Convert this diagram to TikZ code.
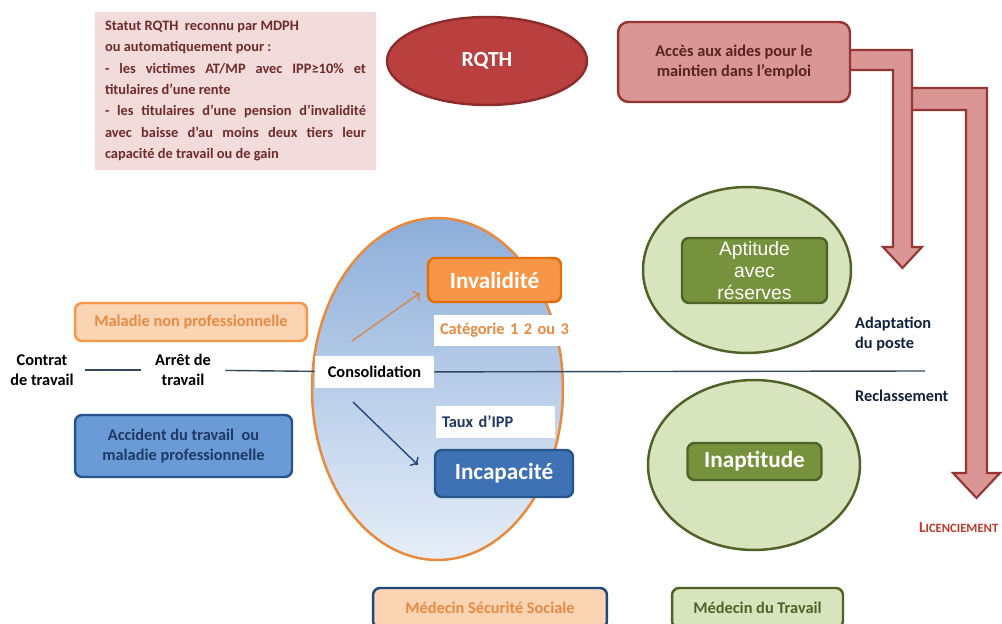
\documentclass[tikz,border=0pt]{standalone}
\usepackage{fontspec}
\setmainfont{Carlito}
\newfontfamily\arialfont{Liberation Sans}
\usepackage{tikz}
\usetikzlibrary{positioning, shapes.geometric, arrows.meta}
\usepackage{xcolor}

\definecolor{pinkbg}{HTML}{F2DCDB}
\definecolor{pinktxt}{HTML}{6E2B29}
\definecolor{redfill}{HTML}{B9403E}
\definecolor{reddraw}{HTML}{8C2D2B}
\definecolor{rosefill}{HTML}{D99694}
\definecolor{rosedraw}{HTML}{963634}
\definecolor{orfill}{HTML}{F79646}
\definecolor{ordraw}{HTML}{E46C0A}
\definecolor{orlight}{HTML}{FBD4B4}
\definecolor{ortxt}{HTML}{E58B42}
\definecolor{bluefill}{HTML}{3E72B5}
\definecolor{bluedraw}{HTML}{25558A}
\definecolor{bluemid}{HTML}{6A9BD6}
\definecolor{bluetop}{HTML}{8DAEDA}
\definecolor{bluebot}{HTML}{E6EEF8}
\definecolor{bluetxt}{HTML}{1F3864}
\definecolor{navy}{HTML}{1F497D}
\definecolor{greenlight}{HTML}{D7E4BD}
\definecolor{greenfill}{HTML}{76923C}
\definecolor{greendraw}{HTML}{4F6228}
\definecolor{linecol}{HTML}{34495E}
\definecolor{licred}{HTML}{C0392B}

\begin{document}
\begin{tikzpicture}[x=0.02cm, y=-0.02cm,
    txt/.style={font=\fontsize{9.3}{11.5}\selectfont\bfseries, align=center},
    bigtxt/.style={font=\fontsize{13.2}{15}\selectfont\bfseries},
    rbox/.style={txt, rounded corners=4pt, line width=1.4pt, inner sep=0pt},
    wbox/.style={txt, fill=white, inner sep=0pt, minimum height=0.64cm},
    oval/.style={ellipse, line width=1.4pt, inner sep=0pt}]

    % Bounding box
    \useasboundingbox[fill=white] (0,0) rectangle (1002,624);

    % Top row: statut, RQTH, aides
    \node[fill=pinkbg, minimum width=5.62cm, minimum height=3.16cm, text width=5.22cm,
          align=justify, text=pinktxt, font=\fontsize{8.2}{12.2}\selectfont\bfseries] (statut) at (235.5,91)
        {Statut RQTH \ reconnu par MDPH\\
         ou automatiquement pour :\\
         - les victimes AT/MP avec IPP≥10\% et\linebreak titulaires d'une rente\\
         - les titulaires d'une pension d'invalidité\linebreak avec baisse d'au moins deux tiers leur\linebreak capacité de travail ou de gain};
    \node[oval, fill=redfill, draw=reddraw, minimum width=4cm, minimum height=1.76cm,
          text=white, font=\fontsize{12.3}{14}\selectfont\bfseries] (rqth) at (487,61) {RQTH};

    % Bent arrows (drawn before the box)
    \filldraw[fill=rosefill, draw=rosedraw, line width=1.2pt]
        (905,88) -- (987,88) -- (987,473) -- (1000,473) -- (976.5,498) -- (953,473)
        -- (966,473) -- (966,110) -- (905,110) -- cycle;
    \filldraw[fill=rosefill, draw=rosedraw, line width=1.2pt]
        (845,50) -- (912,50) -- (912,247) -- (922,247) -- (902.5,268) -- (883,247)
        -- (893,247) -- (893,70) -- (845,70) -- cycle;
    \node[rbox, fill=rosefill, draw=rosedraw, minimum width=4.64cm, minimum height=1.6cm,
          rounded corners=6pt, text=pinktxt!80!black] (aides) at (734,62)
        {Accès aux aides pour le\\maintien dans l'emploi};

    % Big circle (Sécurité Sociale)
    \node[oval, top color=bluetop, bottom color=bluebot, draw=ordraw!80,
          minimum width=5.02cm, minimum height=6.84cm] (secu) at (437.5,389) {};
    \node[rbox, fill=orfill, draw=ordraw, minimum width=2.66cm, minimum height=0.88cm,
          text=white, bigtxt] (inval) at (494.5,280) {Invalidité};
    \node[wbox, text width=2.7cm, inner xsep=0.12cm, align=left, text=ortxt, minimum height=0.62cm]
        (categ) at (507.5,330.5) {Catégorie 1 2 ou 3};
    \node[wbox, minimum width=2.38cm] (consol) at (374.5,372) {Consolidation};
    \node[wbox, text width=2.14cm, inner xsep=0.12cm, align=left, text=bluetxt]
        (taux) at (495.5,422) {Taux d'IPP};
    \node[rbox, fill=bluefill, draw=bluedraw, minimum width=2.76cm, minimum height=0.94cm,
          text=white, bigtxt] (incap) at (504,473.5) {Incapacité};

    \coordinate (invstart) at (352,341);
    \coordinate (invend) at (420,293);
    \coordinate (incstart) at (353,402);
    \coordinate (incend) at (418,465);
    \draw[->, ortxt!80!gray, line width=0.8pt] (invstart) -- (invend);
    \draw[->, navy, line width=0.8pt] (incstart) -- (incend);

    % Left side
    \node[rbox, fill=orlight, draw=orfill, minimum width=4.64cm, minimum height=0.76cm,
          text=ortxt] (maladie) at (191,322) {Maladie non professionnelle};
    \node[rbox, fill=bluemid, draw=bluedraw, minimum width=4.34cm, minimum height=1.24cm,
          text=bluetxt] (accident) at (183.5,446) {Accident du travail \ ou\\maladie professionnelle};
    \node[txt, inner xsep=6pt] (contrat) at (42,370) {Contrat\\de travail};
    \node[txt, inner xsep=8pt] (arret) at (183,370) {Arrêt de\\travail};
    \coordinate (lineend) at (925,371);

    % Timeline
    \draw[linecol, line width=0.8pt] (contrat) -- (arret);
    \draw[linecol, line width=0.8pt] (arret) -- (consol);
    \draw[linecol, line width=0.8pt] (consol) -- (lineend);

    % Right side (Médecin du Travail)
    \node[oval, fill=greenlight, draw=greendraw, minimum width=4.16cm, minimum height=3.32cm] (aptov) at (747,270) {};
    \node[rbox, fill=greenfill, draw=greendraw, minimum width=2.9cm, minimum height=1.3cm,
          text=white, font=\arialfont\fontsize{11}{12.5}\selectfont] (apt) at (754.5,270.5) {Aptitude\\avec\\réserves};
    \node[oval, fill=greenlight, draw=greendraw, minimum width=4.24cm, minimum height=3.4cm] (inaptov) at (754,465) {};
    \node[rbox, fill=greenfill, draw=greendraw, minimum width=2.68cm, minimum height=0.74cm,
          text=white, bigtxt] (inapt) at (754.5,461.5) {Inaptitude};
    \node[txt, align=left, anchor=west, text=bluetxt!60!black] (adapt) at (849,334) {Adaptation\\du poste};
    \node[txt, anchor=west, text=bluetxt!60!black] (reclass) at (849,396) {Reclassement};
    \node[anchor=west, text=licred, font=\bfseries, inner xsep=1pt] (licenc) at (917,528)
        {{\fontsize{8.8}{11}\selectfont L}{\fontsize{7.2}{11}\selectfont ICENCIEMENT}};

    % Bottom row: the two doctors
    \node[rbox, fill=orlight, draw=navy, minimum width=4.68cm, minimum height=0.8cm,
          text=ortxt] (medss) at (490,608) {Médecin Sécurité Sociale};
    \node[rbox, fill=greenlight, draw=greendraw, minimum width=3.42cm, minimum height=0.8cm,
          text=greendraw] (medtr) at (757.5,608) {Médecin du Travail};

\end{tikzpicture}
\end{document}
